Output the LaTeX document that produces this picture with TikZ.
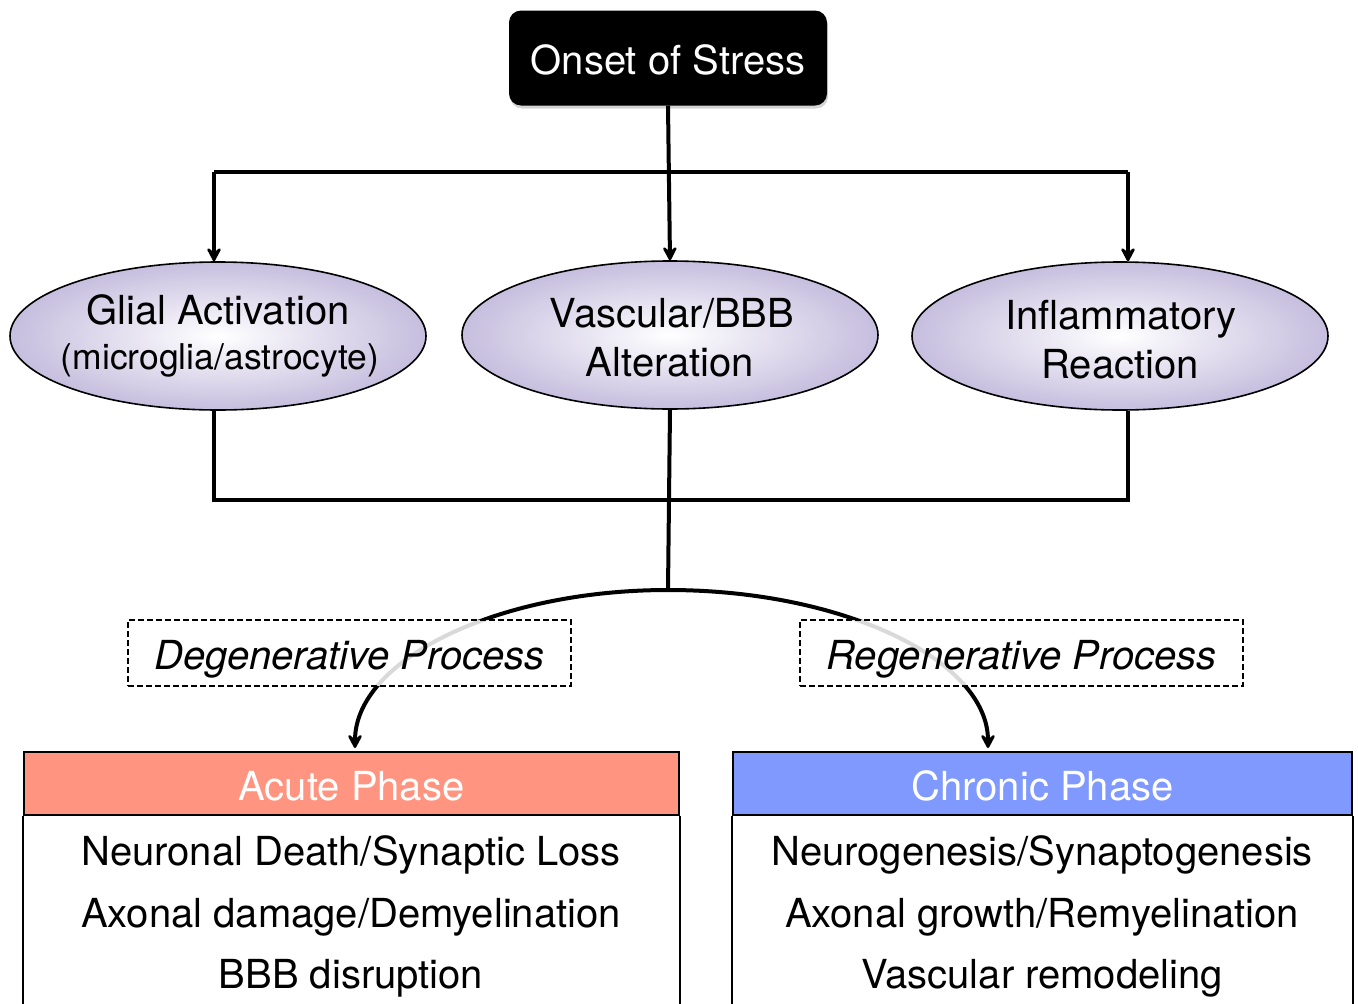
\documentclass[tikz,border=0pt]{standalone}
\usepackage{fontspec}
\setmainfont{TeX Gyre Heros}
\usetikzlibrary{arrows.meta,shadows,shapes.geometric}
\definecolor{lav}{RGB}{198,190,222}
\definecolor{salmon}{RGB}{255,149,128}
\definecolor{bluehd}{RGB}{128,153,255}
\tikzset{
  topbox/.style={rectangle,rounded corners=12pt,fill=black,text=white,minimum width=318pt,minimum height=95pt,inner sep=0pt,text height=40pt,text depth=7pt,font=\fontsize{40}{48}\selectfont,drop shadow={opacity=0.35,shadow xshift=1pt,shadow yshift=-3pt}},
  ell/.style={ellipse,draw=black,line width=1.6pt,inner color=white,outer color=lav,minimum width=416pt,minimum height=148pt,inner sep=0pt},
  etext/.style={anchor=base,inner sep=0pt,font=\fontsize{40}{48}\selectfont},
  esmall/.style={anchor=base,inner sep=0pt,font=\fontsize{35.5}{44}\selectfont},
  conn/.style={line width=4pt,line join=miter},
  arr/.style={line width=4pt,-{Stealth[length=18pt,width=19pt,inset=8pt,round]}},
  dbox/.style={draw=black,dash pattern=on 6pt off 3pt,line width=1.5pt,fill=white,fill opacity=0.85,text opacity=1,minimum width=443pt,minimum height=66pt,inner sep=0pt,text height=40pt,text depth=8pt,font=\fontsize{40}{48}\selectfont\itshape},
  hdr/.style={draw=black,line width=2pt,text=white,minimum height=63pt,inner sep=0pt,text height=40pt,text depth=7pt,font=\fontsize{40}{48}\selectfont},
  bodytext/.style={anchor=base,inner sep=0pt,font=\fontsize{40}{48}\selectfont},
  boxline/.style={line width=2pt}
}
\begin{document}
\begin{tikzpicture}[x=1pt,y=-1pt]
\useasboundingbox (0,0) rectangle (1358,1004);
% top
\node[topbox] (onset) at (668,58) {Onset of Stress};
% ellipses
\node[ell] (glial) at (218,336) {};
\node[ell] (vasc) at (670,335) {};
\node[ell] (infl) at (1120,336) {};
\node[etext] (glialA) at (218,324) {Glial Activation};
\node[esmall] (glialB) at (220,369) {(microglia/astrocyte)};
\node[etext] (vascA) at (672,327) {Vascular/BBB};
\node[etext] (vascB) at (670,376) {Alteration};
\node[etext] (inflA) at (1121,329) {Inflammatory};
\node[etext] (inflB) at (1120,378) {Reaction};
% upper connectors
\coordinate (hL) at (214,172);
\coordinate (hR) at (1128,172);
\draw[conn] (hL) -- (hR);
\draw[arr] (onset.south) -- (vasc.north);
\draw[arr] (hL) -- (hL |- glial.north);
\draw[arr] (hR) -- (hR |- infl.north);
% lower connectors
\coordinate (jL) at (214,500);
\coordinate (jR) at (1128,500);
\coordinate (split) at (668,590);
\draw[conn] (glial.south -| jL) -- (jL) -- (jR) -- (infl.south -| jR);
\draw[conn] (vasc.south) -- (split);
% arcs
\draw[arr] (split) arc[start angle=270,end angle=180,x radius=313,y radius=158];
\draw[arr] (split) arc[start angle=270,end angle=360,x radius=320,y radius=158];
% dashed labels
\node[dbox] (deg) at (349.5,653) {Degenerative Process};
\node[dbox] (reg) at (1021.5,653) {Regenerative Process};
% phase boxes
\node[hdr,fill=salmon,minimum width=655pt] (acute) at (351.5,783.5) {Acute Phase};
\node[hdr,fill=bluehd,minimum width=619pt] (chronic) at (1042.5,783.5) {Chronic Phase};
\draw[boxline] (acute.south west) -- ++(0,220);
\draw[boxline] (acute.south east) -- ++(0,220);
\draw[boxline] (chronic.south west) -- ++(0,220);
\draw[boxline] (chronic.south east) -- ++(0,220);
\node[bodytext] (a1) at (351,865) {Neuronal Death/Synaptic Loss};
\node[bodytext] (a2) at (351,927) {Axonal damage/Demyelination};
\node[bodytext] (a3) at (351,988) {BBB disruption};
\node[bodytext] (c1) at (1042,865) {Neurogenesis/Synaptogenesis};
\node[bodytext] (c2) at (1042,927) {Axonal growth/Remyelination};
\node[bodytext] (c3) at (1042,988) {Vascular remodeling};
\end{tikzpicture}
\end{document}
